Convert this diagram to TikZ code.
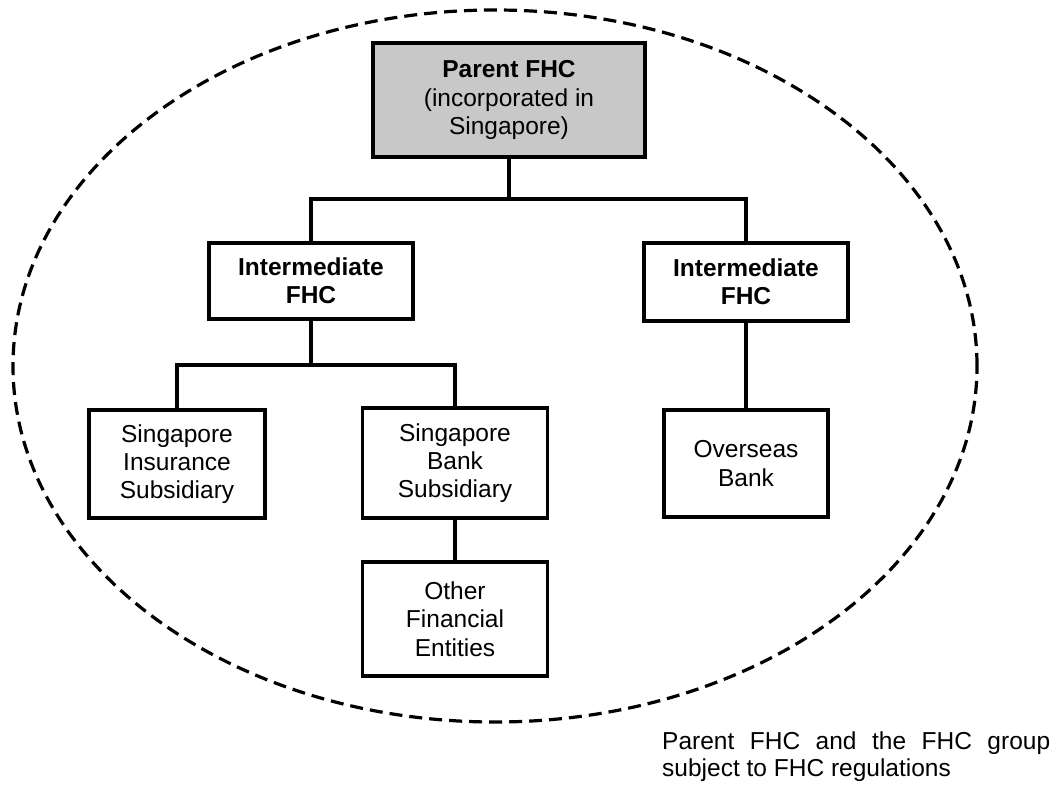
\documentclass[tikz,border=0pt]{standalone}
\usepackage{fontspec}
\setmainfont{Liberation Sans}
\definecolor{parentgray}{RGB}{200,200,200}
\begin{document}
\begin{tikzpicture}[x=1pt,y=-1pt,
  box/.style={draw=black,line width=3.2pt,align=center,inner sep=2pt,
    font=\fontsize{24.5}{28.3}\selectfont},
  link/.style={line width=3.2pt},
  group/.style={line width=3.2pt,dash pattern=on 13pt off 7pt}]
\useasboundingbox (0,0) rectangle (1057,787);
\draw[group] (495,366) ellipse [x radius=482pt, y radius=356pt];
\node[box,fill=parentgray,minimum width=272pt,minimum height=114pt] (parent) at (509,100)
  {\textbf{Parent FHC}\\(incorporated in\\Singapore)};
\node[box,minimum width=204pt,minimum height=76pt] (il) at (311,281)
  {\textbf{Intermediate}\\\textbf{FHC}};
\node[box,minimum width=204pt,minimum height=78pt] (ir) at (746,282)
  {\textbf{Intermediate}\\\textbf{FHC}};
\node[box,minimum width=176pt,minimum height=108pt] (ins) at (177,464)
  {Singapore\\Insurance\\Subsidiary};
\node[box,minimum width=185pt,minimum height=110pt] (bank) at (455,463)
  {Singapore\\Bank\\Subsidiary};
\node[box,minimum width=185pt,minimum height=114pt] (other) at (455,619)
  {Other\\Financial\\Entities};
\node[box,minimum width=164pt,minimum height=107pt] (ovs) at (746,463.5)
  {Overseas\\Bank};
\coordinate (j1) at (509,199);
\coordinate (j2) at (311,365);
\draw[link] (parent.south) -- (j1);
\draw[link] (il.north) -- (il.north |- j1) -- (ir.north |- j1) -- (ir.north);
\draw[link] (il.south) -- (j2);
\draw[link] (ins.north) -- (ins.north |- j2) -- (bank.north |- j2) -- (bank.north);
\draw[link] (bank.south) -- (other.north);
\draw[link] (ir.south) -- (ovs.north);
\node[anchor=north west,inner sep=0pt,text width=388pt,align=justify,
  font=\fontsize{24.5}{27}\selectfont] (cap) at (662,732)
  {Parent FHC and the FHC group\linebreak subject to FHC regulations};
\end{tikzpicture}
\end{document}
